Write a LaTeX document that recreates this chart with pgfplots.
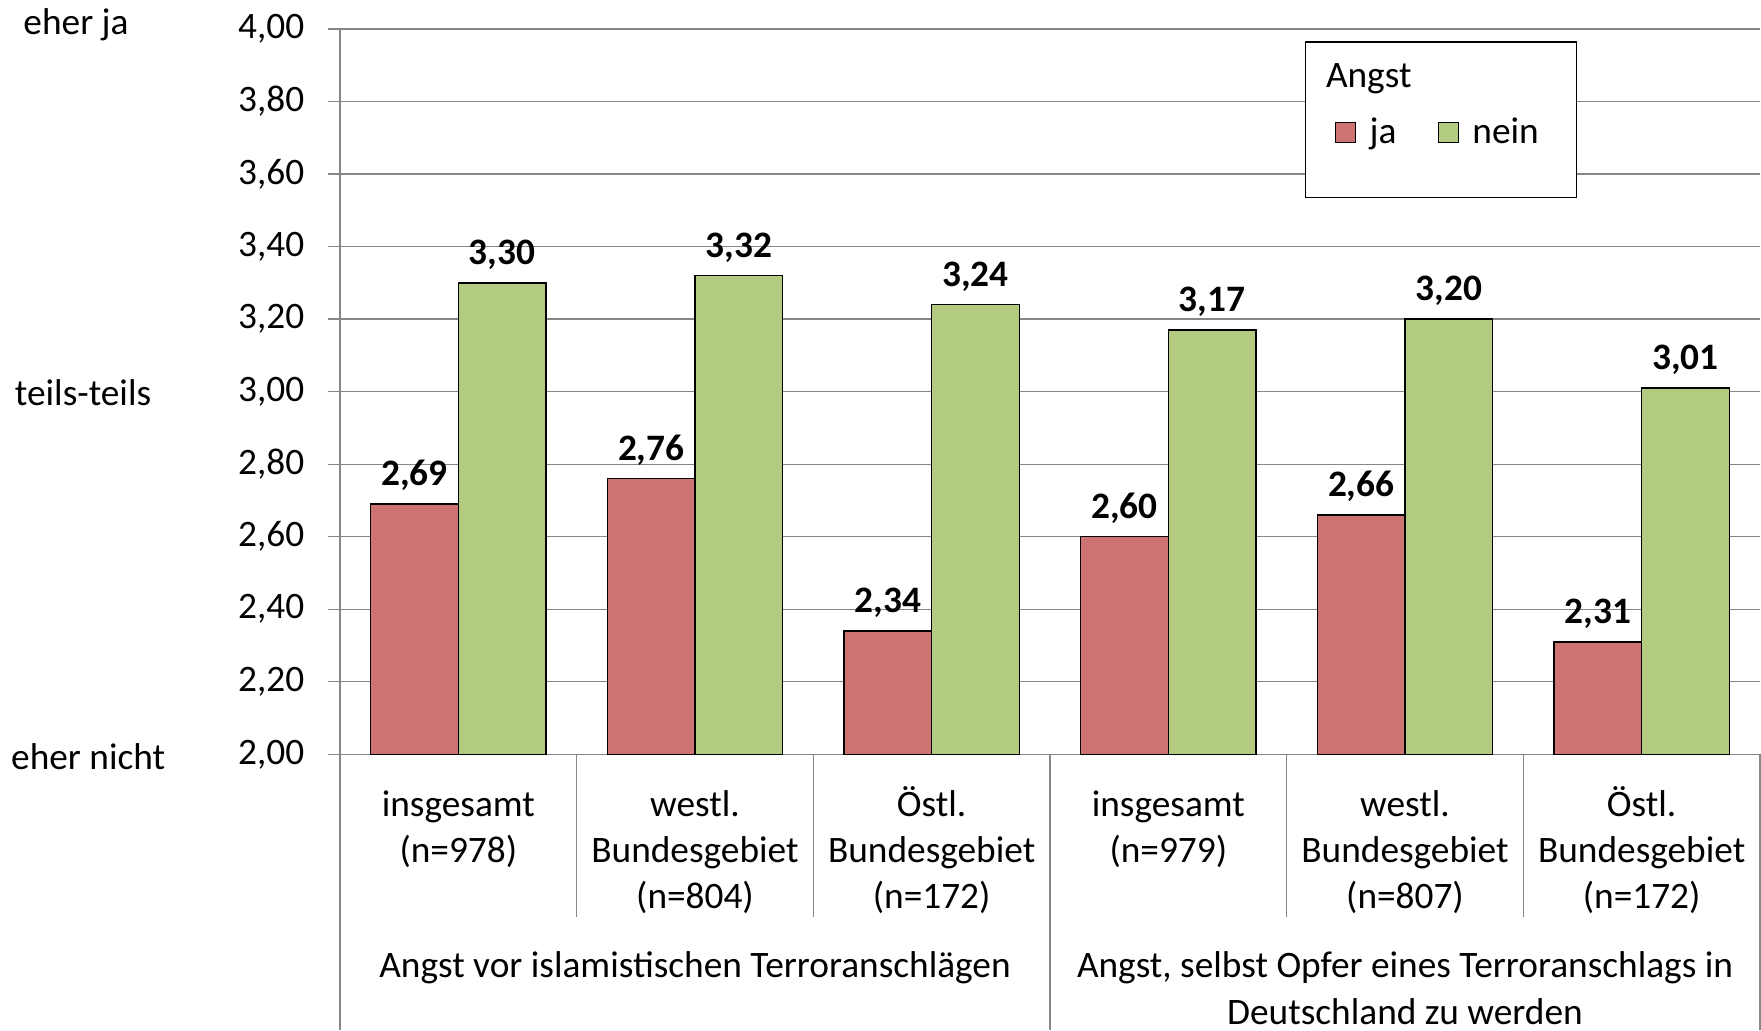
\documentclass[border=0pt]{standalone}
\usepackage{fontspec}
\setmainfont{Carlito}
\usepackage{pgfplots}
\pgfplotsset{compat=1.18}
\definecolor{jared}{RGB}{205,115,113}
\definecolor{neingreen}{RGB}{179,203,128}
\definecolor{gridgray}{RGB}{134,134,134}
\newcommand\chartfont{\fontsize{14}{17.25}\selectfont}
\newcommand\fs{\rule{0pt}{13pt}}
\begin{document}
\begin{tikzpicture}
\path (0,0) rectangle (660.375pt,386.25pt);
% left scale labels
\node[anchor=base west, inner sep=0pt, font=\chartfont] at (8.6pt,373.2pt) {eher ja};
\node[anchor=base west, inner sep=0pt, font=\chartfont] at (5.4pt,234.3pt) {teils-teils};
\node[anchor=base west, inner sep=0pt, font=\chartfont] at (4.0pt,97.7pt) {eher nicht};
\begin{axis}[
  at={(127.5pt,103.39pt)}, anchor=south west,
  scale only axis, width=532.5pt, height=271.99pt,
  clip=false,
  ybar=0pt, bar width=32.85pt,
  xmin=-0.5, xmax=5.5, ymin=2, ymax=4,
  enlargelimits=false,
  axis lines*=left,
  axis line style={-, draw=gridgray, line width=0.5pt},
  ytick={2,2.2,2.4,2.6,2.8,3,3.2,3.4,3.6,3.8,4},
  ytick align=outside, ytick pos=left,
  major tick length=4.5pt,
  ytick style={draw=gridgray, line width=0.5pt},
  ymajorgrids, major grid style={draw=gridgray, line width=0.5pt},
  yticklabel style={font=\chartfont, anchor=east, inner sep=0pt, xshift=-8.7pt},
  xtick={0,1,2,3,4,5},
  xtick style={draw=none},
  xticklabels={{\fs insgesamt\\(n=978)},{\fs westl.\\Bundesgebiet\\(n=804)},{\fs Östl.\\Bundesgebiet\\(n=172)},{\fs insgesamt\\(n=979)},{\fs westl.\\Bundesgebiet\\(n=807)},{\fs Östl.\\Bundesgebiet\\(n=172)}},
  xticklabel style={font=\chartfont, align=center, anchor=north, inner sep=0pt, yshift=-5.6pt},
  nodes near coords={\pgfmathprintnumber{\pgfplotspointmeta}},
  every node near coord/.append style={font=\chartfont\bfseries, anchor=base, yshift=6.8pt, inner sep=0pt},
  legend columns=2,
  legend style={draw=none, fill=none, inner sep=0pt, outer sep=0pt, at={(0.7007,0.8569)}, anchor=west, font=\chartfont, /tikz/every even column/.append style={column sep=13.5pt}},
  legend image code/.code={\draw[#1,draw=black,line width=0.5pt] (0pt,-3.75pt) rectangle (7.5pt,3.75pt); \path (10.5pt,0pt);},
  /pgf/number format/fixed,
  /pgf/number format/fixed zerofill,
  /pgf/number format/precision=2,
  /pgf/number format/use comma,
  /pgf/number format/assume math mode=true,
]
\addplot[fill=jared, draw=black, line width=0.5pt] coordinates {(0,2.69) (1,2.76) (2,2.34) (3,2.60) (4,2.66) (5,2.31)};
\addplot[fill=neingreen, draw=black, line width=0.5pt] coordinates {(0,3.30) (1,3.32) (2,3.24) (3,3.17) (4,3.20) (5,3.01)};
\legend{ja,nein}
% legend frame and title
\draw[black, fill=white, line width=0.5pt] (rel axis cs:0.680,0.768) rectangle (rel axis cs:0.871,0.982);
\node[anchor=west, inner sep=0pt, font=\chartfont] at (rel axis cs:0.694,0.9311) {Angst};
% category separators
\pgfplotsinvokeforeach{0.5,1.5,3.5,4.5}{\draw[gridgray, line width=0.5pt] (axis cs:#1,2) -- ++(0pt,-60.9pt);}
\pgfplotsinvokeforeach{-0.5,2.5,5.5}{\draw[gridgray, line width=0.5pt] (axis cs:#1,2) -- ++(0pt,-103.4pt);}
% group labels
\node[anchor=north, align=center, inner sep=0pt, font=\chartfont] at ([yshift=-70.4pt]axis cs:1,2) {\fs Angst vor islamistischen Terroranschlägen};
\node[anchor=north, align=center, inner sep=0pt, font=\fontsize{14}{17.6}\selectfont] at ([yshift=-70.4pt]axis cs:4,2) {\fs Angst, selbst Opfer eines Terroranschlags in\\Deutschland zu werden};
\end{axis}
\end{tikzpicture}
\end{document}
